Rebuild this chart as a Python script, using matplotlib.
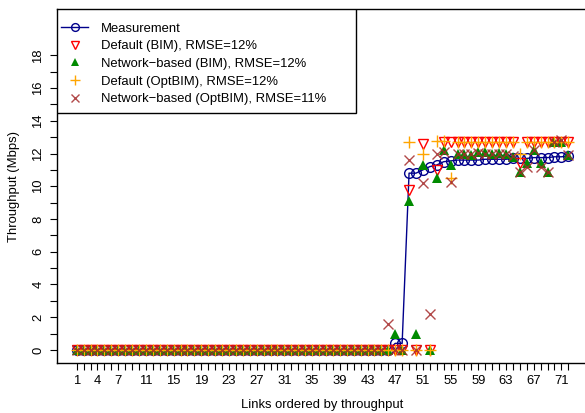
import matplotlib.pyplot as plt
from matplotlib.patches import Rectangle

plt.rcParams['font.family'] = ['Liberation Sans', 'DejaVu Sans']
plt.rcParams['font.size'] = 9.4

links = list(range(1, 73))

# links 1..46 sit at zero for every series
measurement = [0.0] * 46 + [0.4, 0.4,
    10.8, 10.8, 11.0, 11.2, 11.3, 11.5, 11.55, 11.6, 11.6, 11.6, 11.6, 11.65,
    11.65, 11.65, 11.65, 11.7, 11.7, 11.7, 11.75, 11.75, 11.75, 11.8, 11.8, 11.85]
default_bim = [0.0] * 46 + [0.0, 0.0,
    9.8, 0.0, 12.6, 0.0, 11.0, 12.7, 12.7, 12.7, 12.7, 12.7, 12.7, 12.7,
    12.7, 12.7, 12.7, 12.7, 11.4, 12.7, 12.7, 12.7, 12.7, 12.7, 12.7, 12.7]
network_bim = [0.0] * 46 + [0.95, 0.0,
    9.1, 0.95, 11.3, 0.0, 10.5, 12.2, 11.3, 12.0, 11.95, 11.9, 12.1, 12.1,
    12.0, 12.05, 12.0, 11.8, 10.9, 11.4, 12.2, 11.4, 10.9, 12.7, 12.7, 11.9]
default_optbim = [0.0] * 46 + [0.0, 0.0,
    12.7, 0.0, 12.0, 0.0, 12.75, 12.75, 10.5, 12.7, 12.7, 12.7, 12.7, 12.7,
    12.7, 12.7, 12.7, 12.7, 12.0, 12.7, 12.7, 12.7, 12.7, 12.7, 12.7, 12.7]
network_optbim = [0.0] * 45 + [1.6, 0.0, 0.0,
    11.6, 0.0, 10.2, 2.2, 12.0, 12.1, 10.25, 12.0, 11.95, 12.0, 12.05, 12.0,
    12.0, 12.0, 12.0, 11.85, 10.9, 11.2, 12.2, 11.2, 10.9, 12.7, 12.8, 11.9]

etiquetas_x = [1, 4, 7, 11, 15, 19, 23, 27, 31, 35, 39, 43, 47, 51, 55, 59, 63, 67, 71]

W, H = 585, 413
fig = plt.figure(figsize=(W / 100, H / 100), dpi=100)
# plot region in pixels: left 57, right 588 (just past the edge), top 9.5, bottom 363
ax = fig.add_axes([57 / W, 1 - 363 / H, 531 / W, 353.5 / H])

ax.plot(links, measurement, '-o', color='#00008B', lw=1, ms=7,
        mfc='none', mew=1, label='Measurement')
ax.plot(links, default_bim, 'v', color='red', ms=7.5, mfc='none', mew=1,
        label='Default (BIM), RMSE=12%')
ax.plot(links, network_bim, '^', color='#008B00', ms=7, mew=0,
        label='Network\u2212based (BIM), RMSE=12%')
ax.plot(links, default_optbim, '+', color='orange', ms=8.5, mew=1,
        label='Default (OptBIM), RMSE=12%')
ax.plot(links, network_optbim, 'x', color='#A52A2A', ms=6.5, mew=1, alpha=0.85,
        label='Network\u2212based (OptBIM), RMSE=11%')

ax.set_xlim(-1.84, 74.84)
ax.set_ylim(-0.8, 20.8)

ax.set_xticks(links)
ax.set_xticklabels([str(i) if i in etiquetas_x else '' for i in links])
ax.set_yticks(range(0, 19))
ax.set_yticklabels([str(i) if i % 2 == 0 else '' for i in range(0, 19)],
                   rotation=90, va='center')
ax.tick_params(axis='both', direction='out', length=5, width=0.8, pad=4)
ax.tick_params(axis='y', pad=4)

ax.set_xlabel('Links ordered by throughput', labelpad=8)
ax.set_ylabel('Throughput (Mbps)', labelpad=9)

for lado in ['top', 'left', 'bottom', 'right']:
    ax.spines[lado].set_linewidth(1)

# legend box drawn by hand, flush with the top-left corner
caixa = Rectangle((0, 0.707), 0.563, 0.293, transform=ax.transAxes,
                  facecolor='white', edgecolor='black', lw=1, zorder=4)
ax.add_patch(caixa)
leg = ax.legend(loc='upper left', bbox_to_anchor=(-0.017, 1.0), frameon=False,
                borderaxespad=0, borderpad=1.0, handlelength=2.1,
                handletextpad=0.95, labelspacing=0.42, fontsize=9.4,
                markerscale=0.8)
leg.set_zorder(5)

plt.savefig('out.png', dpi=100)
